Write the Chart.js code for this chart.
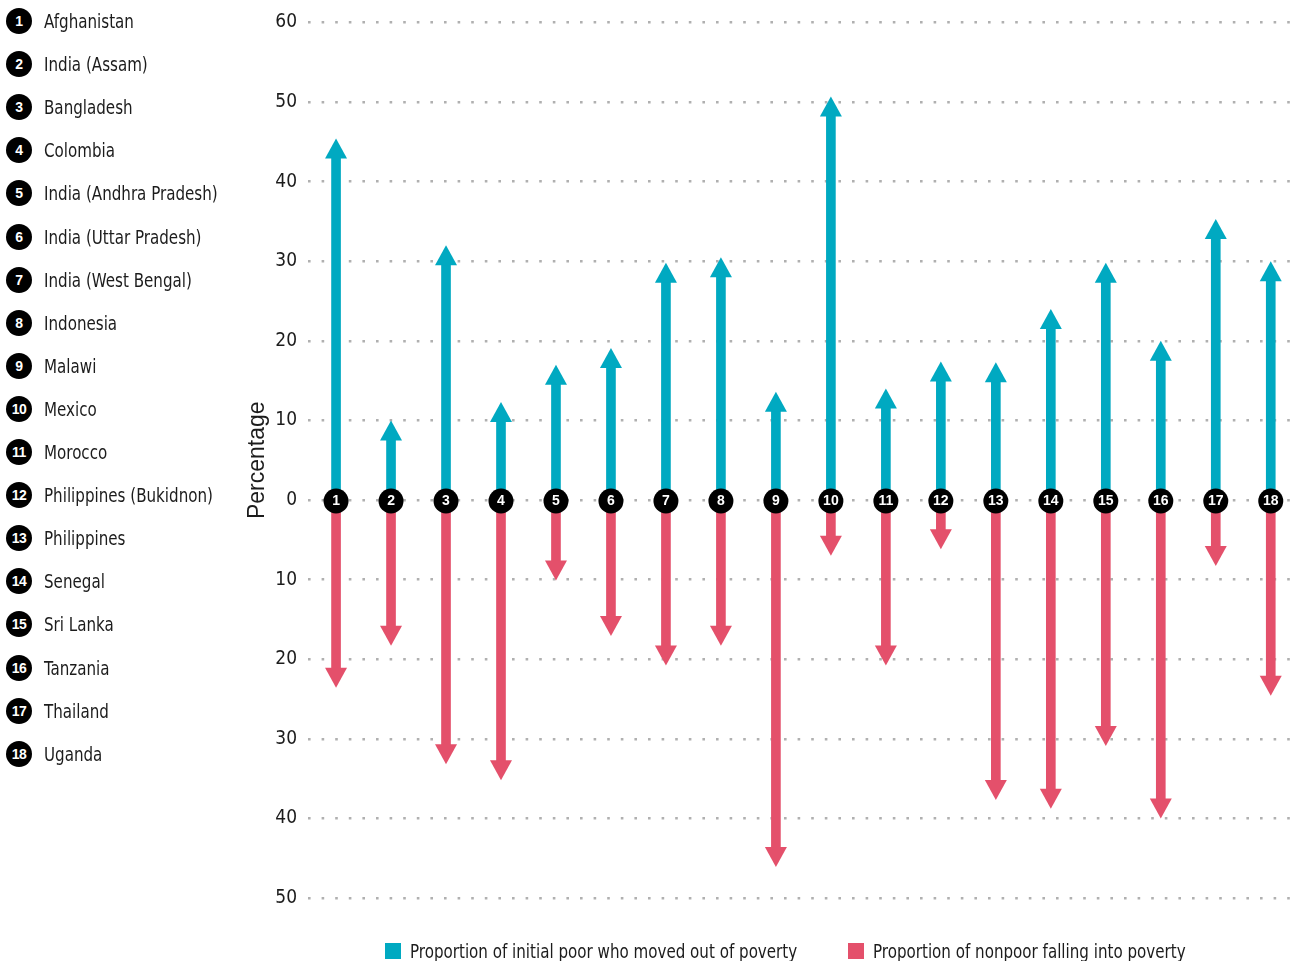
<!DOCTYPE html>
<html>
<head>
<meta charset="utf-8">
<title>Poverty movements</title>
<script src="https://cdn.jsdelivr.net/npm/chart.js@4.4.1/dist/chart.umd.min.js"></script>
<style>
  html, body { margin: 0; padding: 0; background: #fff; }
  body {
    width: 1295px; height: 961px; position: relative; overflow: hidden;
    font-family: "DejaVu Sans Condensed", "DejaVu Sans", sans-serif;
    color: #1c1c1c;
  }
  #chart { position: absolute; left: 0; top: 0; }
  #countries { position: absolute; left: 0; top: 0; margin: 0; padding: 0; list-style: none; }
  #countries li { position: absolute; left: 6px; height: 26px; line-height: 26px; font-size: 20px; white-space: nowrap; }
  .num {
    display: inline-block; width: 26px; height: 26px; border-radius: 50%;
    background: #000; color: #fff; text-align: center; vertical-align: top;
    font: bold 14px/26px "Liberation Sans", sans-serif; letter-spacing: -0.5px;
    margin-right: 12px;
  }
  .txt { display: inline-block; transform: scaleX(0.84); transform-origin: 0 50%; }
  #legend { position: absolute; top: 940px; left: 0; width: 1295px; height: 24px; font-size: 20px; }
  #legend span.item { position: absolute; top: 0; line-height: 22px; white-space: nowrap; }
  #legend i { display: inline-block; width: 16px; height: 16px; vertical-align: -1px; margin-right: 9px; }
</style>
</head>
<body>
<canvas id="chart" width="1295" height="961"></canvas>
<ul id="countries"></ul>
<div id="legend"></div>
<script>
const countries = [
  'Afghanistan', 'India (Assam)', 'Bangladesh', 'Colombia', 'India (Andhra Pradesh)',
  'India (Uttar Pradesh)', 'India (West Bengal)', 'Indonesia', 'Malawi', 'Mexico',
  'Morocco', 'Philippines (Bukidnon)', 'Philippines', 'Senegal', 'Sri Lanka',
  'Tanzania', 'Thailand', 'Uganda'
];
// % of initial poor who moved out of poverty (drawn upwards)
const movedOut = [45.4, 10, 32, 12.3, 17, 19.1, 29.8, 30.5, 13.6, 50.7, 14, 17.4, 17.3, 24, 29.8, 20, 35.3, 30];
// % of nonpoor falling into poverty (drawn downwards)
const fellIn = [23.6, 18.3, 33.2, 35.2, 10.1, 17.1, 20.8, 18.3, 46.1, 7.0, 20.8, 6.2, 37.7, 38.8, 30.9, 40, 8.3, 24.6];
const yTicks = [-50, -40, -30, -20, -10, 0, 10, 20, 30, 40, 50, 60];
const seriesNames = ['Proportion of initial poor who moved out of poverty', 'Proportion of nonpoor falling into poverty'];

const TEAL = '#00a9c1';
const RED = '#e4506b';
const NARROW = '"DejaVu Sans Condensed", "DejaVu Sans", sans-serif';
const HEAD_LEN = 20;
const HEAD_W = 22;

// numbered list of countries on the left
const list = document.getElementById('countries');
countries.forEach((c, i) => {
  const li = document.createElement('li');
  li.style.top = (8 + i * 43.1) + 'px';
  li.innerHTML = '<span class="num">' + (i + 1) + '</span><span class="txt">' + c + '</span>';
  list.appendChild(li);
});

// series legend at the bottom
const legend = document.getElementById('legend');
[[385, TEAL], [848, RED]].forEach(([left, col], i) => {
  const s = document.createElement('span');
  s.className = 'item';
  s.style.left = left + 'px';
  s.innerHTML = '<i style="background:' + col + '"></i><span class="txt">' + seriesNames[i] + '</span>';
  legend.appendChild(s);
});

const arrows = {
  id: 'arrows',
  afterDatasetsUpdate(chart) {
    // shorten the shafts so they stop at the base of the arrowhead
    chart.data.datasets.forEach((ds, di) => {
      chart.getDatasetMeta(di).data.forEach(bar => {
        const up = bar.y < bar.base;
        bar.y += up ? HEAD_LEN - 1 : -(HEAD_LEN - 1);
      });
    });
  },
  afterDatasetsDraw(chart) {
    const { ctx, scales: { x, y } } = chart;
    chart.data.datasets.forEach(ds => {
      ds.data.forEach(pt => {
        const px = x.getPixelForValue(pt.x);
        const tip = y.getPixelForValue(pt.y);
        const dir = pt.y >= 0 ? 1 : -1;
        ctx.save();
        ctx.fillStyle = ds.backgroundColor;
        ctx.beginPath();
        ctx.moveTo(px, tip);
        ctx.lineTo(px - HEAD_W / 2, tip + dir * HEAD_LEN);
        ctx.lineTo(px + HEAD_W / 2, tip + dir * HEAD_LEN);
        ctx.closePath();
        ctx.fill();
        ctx.restore();
      });
    });
    // numbered markers on the zero line
    const y0 = y.getPixelForValue(0) + 1;
    countries.forEach((c, i) => {
      const px = x.getPixelForValue(i + 1);
      ctx.save();
      ctx.fillStyle = '#000';
      ctx.beginPath();
      ctx.arc(px, y0, 12.5, 0, Math.PI * 2);
      ctx.fill();
      ctx.fillStyle = '#fff';
      ctx.font = 'bold 14px "Liberation Sans", sans-serif';
      ctx.textAlign = 'center';
      ctx.textBaseline = 'middle';
      ctx.fillText(String(i + 1), px, y0 + 0.5);
      ctx.restore();
    });
  }
};

new Chart(document.getElementById('chart'), {
  type: 'bar',
  data: {
    datasets: [
      { label: seriesNames[0], data: movedOut.map((v, i) => ({ x: i + 1, y: v })), backgroundColor: TEAL },
      { label: seriesNames[1], data: fellIn.map((v, i) => ({ x: i + 1, y: -v })), backgroundColor: RED }
    ]
  },
  options: {
    responsive: false,
    animation: false,
    events: [],
    barThickness: 9,
    layout: { padding: { left: 236, top: 22, right: 5, bottom: 63 } },
    plugins: { legend: { display: false }, tooltip: { enabled: false } },
    scales: {
      x: {
        type: 'linear', display: false, stacked: true, offset: false,
        min: 0.49, max: 18.35
      },
      y: {
        stacked: true,
        min: -50, max: 60,
        afterFit(scale) { scale.width = 72; },
        afterBuildTicks(scale) { scale.ticks = yTicks.map(v => ({ value: v })); },
        border: { display: false, dash: [2.6, 11] },
        grid: { color: '#b0b0b0', lineWidth: 2.6, drawTicks: false },
        ticks: {
          padding: 11, color: '#1c1c1c',
          font: { family: NARROW, size: 19 },
          callback: v => Math.abs(v)
        },
        title: {
          display: true, text: 'Percentage', color: '#1c1c1c',
          font: { family: '"Liberation Sans", sans-serif', size: 23 },
          padding: { top: 8, bottom: 0 }
        }
      }
    }
  },
  plugins: [arrows]
});
</script>
</body>
</html>
